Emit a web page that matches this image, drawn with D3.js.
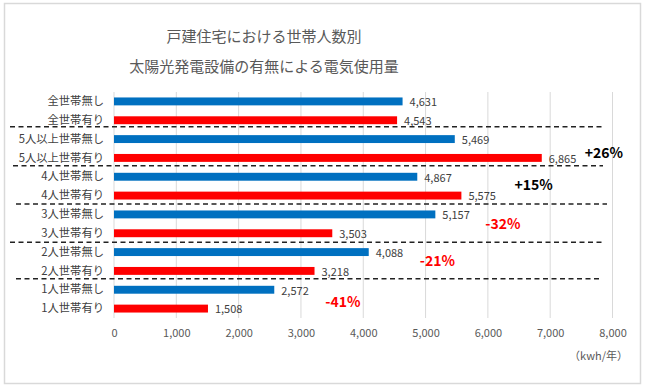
<!DOCTYPE html>
<html><head><meta charset="utf-8">
<script src="https://cdn.jsdelivr.net/npm/d3@7"></script>
<style>
html,body{margin:0;padding:0;background:#fff;}
svg{display:block;}
text{font-family:"Noto Sans CJK JP","Noto Sans",sans-serif;}
</style></head>
<body><svg id="c" width="646" height="390"></svg>
<script>
const categories = ["全世帯無し","全世帯有り","5人以上世帯無し","5人以上世帯有り","4人世帯無し","4人世帯有り","3人世帯無し","3人世帯有り","2人世帯無し","2人世帯有り","1人世帯無し","1人世帯有り"];
const values = [4631,4543,5469,6865,4867,5575,5157,3503,4088,3218,2572,1508];
const seriesKind = ["無","有","無","有","無","有","無","有","無","有","無","有"];
const xTicks = [0,1000,2000,3000,4000,5000,6000,7000,8000];
const pctLabels = ["+26%","+15%","-32%","-21%","-41%"];
const pctGroups = [1,2,3,4,5];
const titleLines = ["戸建住宅における世帯人数別","太陽光発電設備の有無による電気使用量"];
const unitLabel = "（kwh/年）";

const svg = d3.select("#c");
svg.append("rect").attr("x",4.5).attr("y",3.5).attr("width",636).attr("height",380)
  .attr("fill","#fff").attr("stroke","#d9d9d9").attr("stroke-width",1.5);

const x = d3.scaleLinear().domain([0,8000]).range([114,612.5]);
const y = d3.scaleBand().domain(categories).range([92,318]).paddingInner(0.58).paddingOuter(0.29);

svg.selectAll("text.title").data(titleLines).enter().append("text")
  .attr("x",264).attr("y",(d,i)=>42+i*30).attr("text-anchor","middle")
  .attr("font-size",15).attr("fill","#595959").text(d=>d);

// gridlines
svg.append("g").selectAll("line").data(xTicks).enter().append("line")
  .attr("x1",d=>x(d)).attr("x2",d=>x(d)).attr("y1",92).attr("y2",318)
  .attr("stroke","#d9d9d9").attr("stroke-width",1);

// axis labels
const ax = svg.append("g").attr("transform","translate(0,326)")
  .call(d3.axisBottom(x).tickValues(xTicks).tickFormat(d3.format(",")).tickSize(0));
ax.select(".domain").remove();
ax.selectAll("text").attr("font-size",11).attr("fill","#595959")
  .attr("font-family","'Noto Sans CJK JP',sans-serif").attr("dy","0.71em");

// category labels
const ay = svg.append("g").attr("transform","translate(104,0)")
  .call(d3.axisLeft(y).tickSize(0).tickPadding(0));
ay.select(".domain").remove();
ay.selectAll("text").attr("font-size",11.3).attr("fill","#404040")
  .attr("font-family","'Noto Sans CJK JP',sans-serif");

// bars
svg.append("g").selectAll("rect").data(values).enter().append("rect")
  .attr("x",x(0)).attr("y",(d,i)=>y(categories[i]))
  .attr("width",d=>x(d)-x(0)).attr("height",y.bandwidth())
  .attr("fill",(d,i)=>seriesKind[i]==="無"?"#0070C0":"#FF0000");

// value labels
svg.append("g").selectAll("text").data(values).enter().append("text")
  .attr("x",d=>x(d)+7).attr("y",(d,i)=>y(categories[i])+y.bandwidth()/2+1)
  .attr("dy","0.35em").attr("font-size",11).attr("fill","#404040")
  .text(d=>d3.format(",")(d));

// dashed dividers
const step = y.step();
const divExt = [[10,603,-3],[13,603,-1.5],[16,607,-1],[10,603,-0.5],[16,600,-1.5]];
divExt.forEach((e,k)=>{
  const yy = y(categories[2*(k+1)]) - (step - y.bandwidth())/2 + e[2];
  svg.append("line").attr("x1",e[0]).attr("x2",e[1]).attr("y1",yy).attr("y2",yy)
    .attr("stroke","#222").attr("stroke-width",1.5).attr("stroke-dasharray","5,3.5");
});

// percent labels
const pctDx = [43,53,50,51,51];
const pctDy = [5,-1.5,0,0,3];
pctLabels.forEach((t,k)=>{
  const g = pctGroups[k];
  const i0 = 2*g, i1 = 2*g+1;
  const mx = Math.max(values[i0],values[i1]);
  const cy = (y(categories[i0]) + y(categories[i1]) + y.bandwidth())/2;
  svg.append("text").attr("x",x(mx)+pctDx[k]).attr("y",cy+pctDy[k]).attr("dy","0.35em")
    .attr("font-size",14).attr("font-weight","bold")
    .attr("fill",t.startsWith("+")?"#000":"#FF0000").text(t);
});

svg.append("text").attr("x",628).attr("y",360).attr("text-anchor","end")
  .attr("font-size",11).attr("fill","#595959").text(unitLabel);
</script></body></html>
